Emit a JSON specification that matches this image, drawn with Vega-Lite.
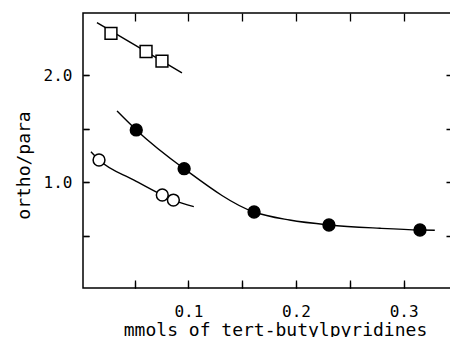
{
  "$schema": "https://vega.github.io/schema/vega-lite/v6.json",
  "width": 370,
  "height": 275,
  "autosize": {"type": "none"},
  "padding": {"left": 83, "top": 13, "right": 0, "bottom": 49},
  "background": "white",
  "config": {
    "view": {"stroke": "black", "strokeWidth": 1.5},
    "axis": {
      "domain": false,
      "tickColor": "black",
      "tickWidth": 1.2,
      "labelColor": "black",
      "titleColor": "black",
      "labelFont": "DejaVu Sans Mono",
      "titleFont": "DejaVu Sans Mono",
      "labelFontSize": 16,
      "titleFontSize": 18,
      "titleFontWeight": "normal"
    }
  },
  "datasets": {
    "points": [
      {"series": "square", "x": 0.028, "y": 2.39},
      {"series": "square", "x": 0.0606, "y": 2.22},
      {"series": "square", "x": 0.0754, "y": 2.13},
      {"series": "filled", "x": 0.0515, "y": 1.487},
      {"series": "filled", "x": 0.096, "y": 1.125},
      {"series": "filled", "x": 0.161, "y": 0.72},
      {"series": "filled", "x": 0.2306, "y": 0.599},
      {"series": "filled", "x": 0.3152, "y": 0.552},
      {"series": "open", "x": 0.0169, "y": 1.206},
      {"series": "open", "x": 0.0757, "y": 0.879},
      {"series": "open", "x": 0.086, "y": 0.832}
    ],
    "curves": [
      {"series": "square", "x": 0.015, "y": 2.49},
      {"series": "square", "x": 0.094, "y": 2.02},
      {"series": "filled", "x": 0.0336, "y": 1.664},
      {"series": "filled", "x": 0.0515, "y": 1.487},
      {"series": "filled", "x": 0.096, "y": 1.125},
      {"series": "filled", "x": 0.161, "y": 0.72},
      {"series": "filled", "x": 0.194, "y": 0.645},
      {"series": "filled", "x": 0.2306, "y": 0.599},
      {"series": "filled", "x": 0.278, "y": 0.568},
      {"series": "filled", "x": 0.3152, "y": 0.552},
      {"series": "filled", "x": 0.329, "y": 0.55},
      {"series": "open", "x": 0.0094, "y": 1.284},
      {"series": "open", "x": 0.0169, "y": 1.206},
      {"series": "open", "x": 0.0494, "y": 1.019},
      {"series": "open", "x": 0.0757, "y": 0.879},
      {"series": "open", "x": 0.086, "y": 0.832},
      {"series": "open", "x": 0.105, "y": 0.77}
    ]
  },
  "layer": [
    {
      "data": {"name": "curves"},
      "mark": {"type": "line", "interpolate": "monotone", "color": "black", "strokeWidth": 1.4},
      "encoding": {
        "x": {
          "field": "x", "type": "quantitative",
          "scale": {"domain": [0.002, 0.3459], "nice": false, "zero": false},
          "axis": {
            "orient": "bottom",
            "title": "mmols of tert-butylpyridines",
            "titleX": 192,
            "values": [0.05, 0.1, 0.15, 0.2, 0.25, 0.3],
            "labelExpr": "round(datum.value*100) % 10 == 0 ? format(datum.value, '.1f') : ''",
            "tickSize": -6,
            "labelPadding": 21,
            "titlePadding": 2,
            "grid": true,
            "gridColor": "black",
            "gridOpacity": 1,
            "gridWidth": 1.3,
            "gridDash": [8, 259, 8, 1000]
          }
        },
        "y": {
          "field": "y", "type": "quantitative",
          "scale": {"domain": [0.01, 2.58], "nice": false, "zero": false},
          "axis": {
            "orient": "left",
            "title": "ortho/para",
            "titleY": 152,
            "values": [0.5, 1.0, 1.5, 2.0],
            "labelExpr": "round(datum.value*10) % 10 == 0 ? format(datum.value, '.1f') : ''",
            "tickSize": -6,
            "labelPadding": 17,
            "titlePadding": 10,
            "grid": true,
            "gridColor": "black",
            "gridOpacity": 1,
            "gridWidth": 1.3,
            "gridDash": [6, 357, 7, 1000]
          }
        },
        "detail": {"field": "series"},
        "order": {"field": "x", "type": "quantitative"}
      }
    },
    {
      "data": {"name": "points"},
      "mark": {"type": "point", "filled": true, "stroke": "black", "strokeWidth": 1.5, "opacity": 1, "size": 140},
      "encoding": {
        "x": {"field": "x", "type": "quantitative"},
        "y": {"field": "y", "type": "quantitative"},
        "shape": {
          "field": "series", "type": "nominal",
          "scale": {"domain": ["square", "open", "filled"], "range": ["square", "circle", "circle"]},
          "legend": null
        },
        "fill": {
          "field": "series", "type": "nominal",
          "scale": {"domain": ["square", "open", "filled"], "range": ["white", "white", "black"]},
          "legend": null
        }
      }
    }
  ]
}
